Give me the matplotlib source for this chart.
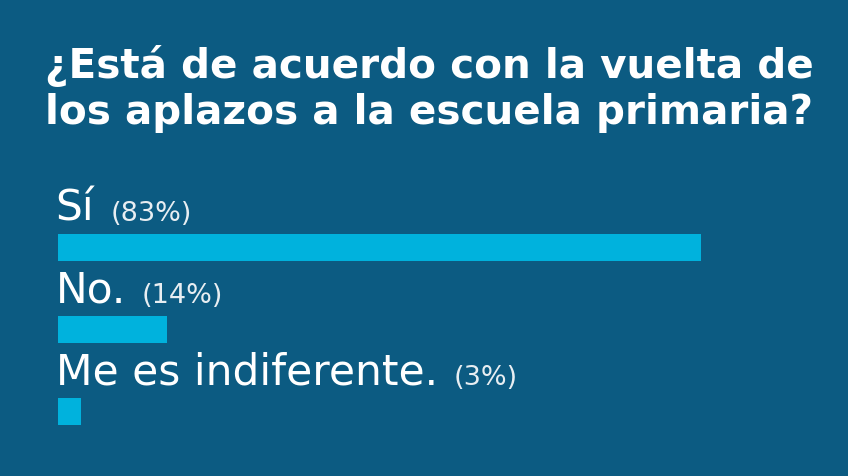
import matplotlib
matplotlib.use("Agg")
import matplotlib.pyplot as plt

title_lines = ["¿Está de acuerdo con la vuelta de", "los aplazos a la escuela primaria?"]
categories = ["Sí", "No.", "Me es indiferente."]
values = [83, 14, 3]
pct_labels = ["(83%)", "(14%)", "(3%)"]

BG = "#0c5b82"
BAR = "#00b2dd"
W, H = 848, 477

fig = plt.figure(figsize=(W / 100, H / 100), dpi=100, facecolor=BG)
ax = fig.add_axes([58 / W, 1 - 453.5 / H, 775 / W, 246 / H])
ax.set_facecolor(BG)
ax.set_xlim(0, 100)
ax.set_ylim(2.5, -0.5)
ax.axis("off")

bar_h = 0.325
ypos = list(range(len(categories)))
ax.barh(ypos, values, height=bar_h, color=BAR, align="center")

fig.text(45 / W, 1 - 78 / H, title_lines[0], family="DejaVu Sans", weight="bold",
         fontsize=29.2, color="white", va="baseline", ha="left")
fig.text(45 / W, 1 - 124 / H, title_lines[1], family="DejaVu Sans", weight="bold",
         fontsize=29.2, color="white", va="baseline", ha="left")

renderer = fig.canvas.get_renderer()
for i, (cat, pct) in enumerate(zip(categories, pct_labels)):
    yb = i - bar_h / 2 - 14.5 / 82
    t = ax.text(-0.3, yb, cat, family="DejaVu Sans", fontsize=30.5, color="white",
                va="baseline", ha="left")
    bb = t.get_window_extent(renderer)
    x_px = bb.x1 + 16
    x_data = ax.transData.inverted().transform((x_px, 0))[0]
    ax.text(x_data, yb, pct, family="DejaVu Sans", fontsize=19.5, color="#e8eef2",
            va="baseline", ha="left")

fig.savefig("out.png", dpi=100, facecolor=BG)
